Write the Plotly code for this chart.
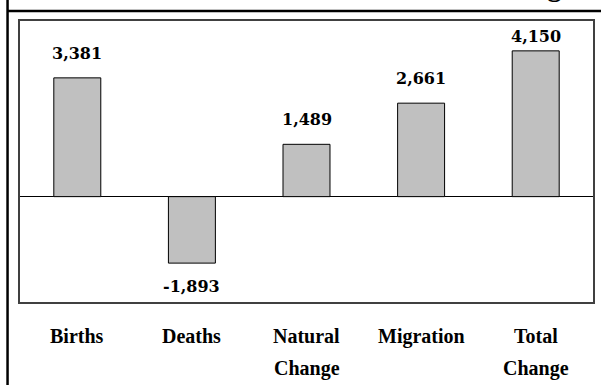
import plotly.graph_objects as go

categories = ["Births", "Deaths", "Natural Change", "Migration", "Total Change"]
values = [3381, -1893, 1489, 2661, 4150]
value_labels = ["3,381", "-1,893", "1,489", "2,661", "4,150"]
title_text = "Sources of Change"

W, H = 601, 385
ML, MR, MT, MB = 20, 6, 21, 83
pw, ph = W - ML - MR, H - MT - MB
Y_MIN, Y_MAX = -3000, 5000

def px_x(px):
    return (px - ML) / pw

def px_y(py):
    return (H - MB - py) / ph

def bar_px(v):
    return MT + (Y_MAX - v) / (Y_MAX - Y_MIN) * ph

fig = go.Figure()
fig.add_trace(go.Bar(
    x=categories, y=values,
    marker=dict(color="#c0c0c0", line=dict(color="#000000", width=1)),
    width=0.41, hoverinfo="skip",
))

annotations = []
for c, v, t in zip(categories, values, value_labels):
    if v >= 0:
        shift = min(13, bar_px(v) - 48)
        anchor = "bottom"
    else:
        shift = -12
        anchor = "top"
    annotations.append(dict(
        x=c, y=v, xref="x", yref="y", text=t, showarrow=False,
        yanchor=anchor, yshift=shift,
        font=dict(family="DejaVu Serif", size=16, color="#000000", weight="bold"),
    ))
for c in categories:
    lines = c.split(" ")
    for i, line in enumerate(lines):
        annotations.append(dict(
            x=c, y=px_y(336 + 32 * i), xref="x", yref="paper", text=line,
            showarrow=False, yanchor="middle",
            font=dict(family="Liberation Serif", size=20, color="#000000", weight="bold"),
        ))
annotations.append(dict(
    x=px_x(578), y=px_y(3.5), xref="paper", yref="paper", text=title_text,
    showarrow=False, xanchor="right", yanchor="bottom",
    font=dict(family="Liberation Serif", size=28, color="#000000", weight="bold"),
))

shapes = [
    dict(type="line", xref="paper", yref="paper",
         x0=px_x(7.5), x1=px_x(7.5), y0=px_y(-2), y1=px_y(390),
         line=dict(color="#000000", width=2.5)),
    dict(type="line", xref="paper", yref="paper",
         x0=px_x(7.5), x1=px_x(605), y0=px_y(11), y1=px_y(11),
         line=dict(color="#000000", width=2.5)),
]

fig.update_layout(
    width=W, height=H,
    margin=dict(l=ML, r=MR, t=MT, b=MB, pad=0),
    paper_bgcolor="#ffffff", plot_bgcolor="#ffffff",
    showlegend=False,
    bargap=0.59,
    annotations=annotations,
    shapes=shapes,
    xaxis=dict(showticklabels=False, ticks="", showgrid=False, zeroline=False,
               showline=True, mirror=True, linecolor="#404040", linewidth=1.5,
               fixedrange=True),
    yaxis=dict(range=[Y_MIN, Y_MAX], showticklabels=False, ticks="", showgrid=False,
               zeroline=True, zerolinecolor="#000000", zerolinewidth=1,
               showline=True, mirror=True, linecolor="#404040", linewidth=1.5,
               fixedrange=True),
)

fig.write_html(
    "out.html",
    config={"displayModeBar": False},
    post_script="document.body.style.margin='0';document.body.style.padding='0';document.body.style.overflow='hidden';",
)
